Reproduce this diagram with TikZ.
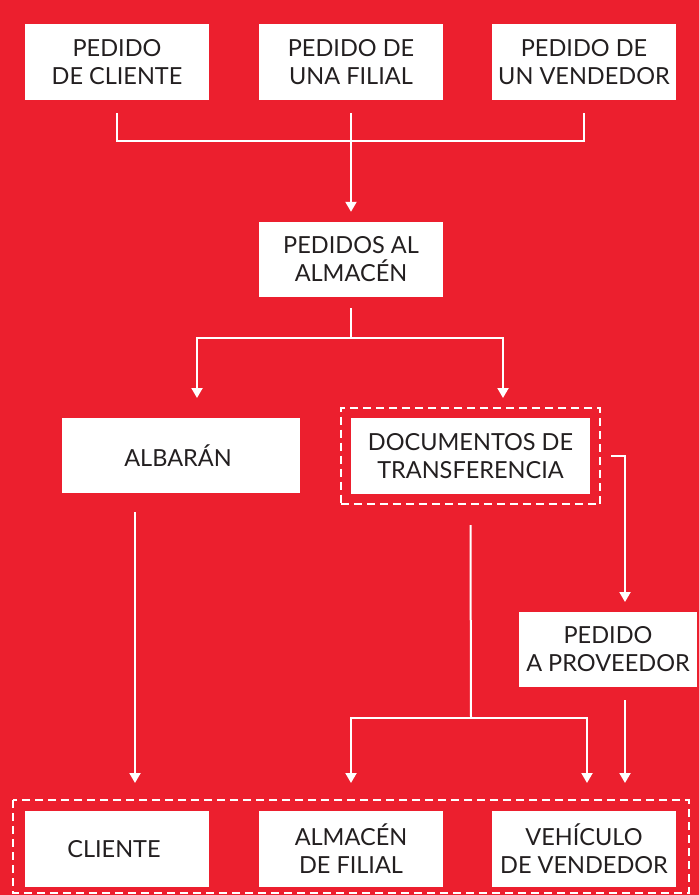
\documentclass[tikz,border=0pt]{standalone}
\usepackage{fontspec}
\setmainfont{Lato}
\usetikzlibrary{arrows.meta,fit}
\definecolor{bgred}{RGB}{236,31,46}
\definecolor{ink}{RGB}{35,31,32}
\begin{document}
\begin{tikzpicture}[x = 1pt, y = -1pt,
  box/.style = {fill = white, text = ink, inner sep = 0pt, minimum width = 184pt, minimum height = 76pt, align = center, font = \fontsize{23.5}{28}\selectfont},
  frame/.style = {draw = white, line width = 2pt, dash pattern = on 8pt off 5pt},
  line/.style = {draw = white, line width = 2pt},
  arrow/.style = {line, -{Triangle[width = 11pt, length = 10pt]}}]

  \fill [bgred] (0, 0) rectangle (699, 895);
  \useasboundingbox (0, 0) rectangle (699, 895);

  \node [box] (pc) at (117, 62) { PEDIDO\\DE CLIENTE };
  \node [box] (pf) at (351, 62) { PEDIDO DE\\UNA FILIAL };
  \node [box] (pv) at (584, 62) { PEDIDO DE\\UN VENDEDOR };

  \node [box, minimum height = 75pt] (pa) at (351, 259.5) { PEDIDOS AL\\ALMACÉN };

  \node [box, minimum width = 238pt, minimum height = 75pt] (alb) at (181, 455.5) { ALBARÁN };
  \node [box, minimum width = 239pt] (doc) at (470.5, 456) { DOCUMENTOS DE\\TRANSFERENCIA };
  \node [frame, fit = (doc), inner xsep = 10pt, inner ysep = 10pt] (docframe) {};

  \node [box, minimum width = 178pt, minimum height = 75pt] (prov) at (608, 649.5) { PEDIDO\\A PROVEEDOR };

  \node [box] (cli) at (117, 849) { CLIENTE };
  \node [box] (alm) at (351, 849) { ALMACÉN\\DE FILIAL };
  \node [box] (veh) at (584, 849) { VEHÍCULO\\DE VENDEDOR };
  \draw [frame] (13, 800) rectangle (689, 893);

  \coordinate (j1) at (351, 141);
  \coordinate (j2) at (351, 338);
  \coordinate (j3) at (471, 718);
  \coordinate (a1) at (197, 398);
  \coordinate (a2) at (503, 398);
  \coordinate (a3) at (625, 602);
  \coordinate (a4) at (351, 783);
  \coordinate (a5) at (587, 783);
  \coordinate (a6) at (135, 783);
  \coordinate (a7) at (625, 783);

  \draw [line] ([yshift = -13pt] pc.south) |- (j1) -| ([yshift = -13pt] pv.south);
  \draw [arrow] ([yshift = -13pt] pf.south) -- ([yshift = 10pt] pa.north);

  \draw [line] ([yshift = -11pt] pa.south) -- (j2);
  \draw [arrow] (j2) -| (a1);
  \draw [arrow] (j2) -| (a2);

  \draw [arrow] ([xshift = 10pt] docframe.east) -| (a3);

  \draw [line] ([yshift = -20pt] docframe.south) -- (j3);
  \draw [arrow] (j3) -| (a4);
  \draw [arrow] (j3) -| (a5);

  \draw [arrow] (a6 |- alb.south) ++(0, 19) -- (a6);
  \draw [arrow] (a7 |- prov.south) ++(0, 13) -- (a7);

\end{tikzpicture}
\end{document}
